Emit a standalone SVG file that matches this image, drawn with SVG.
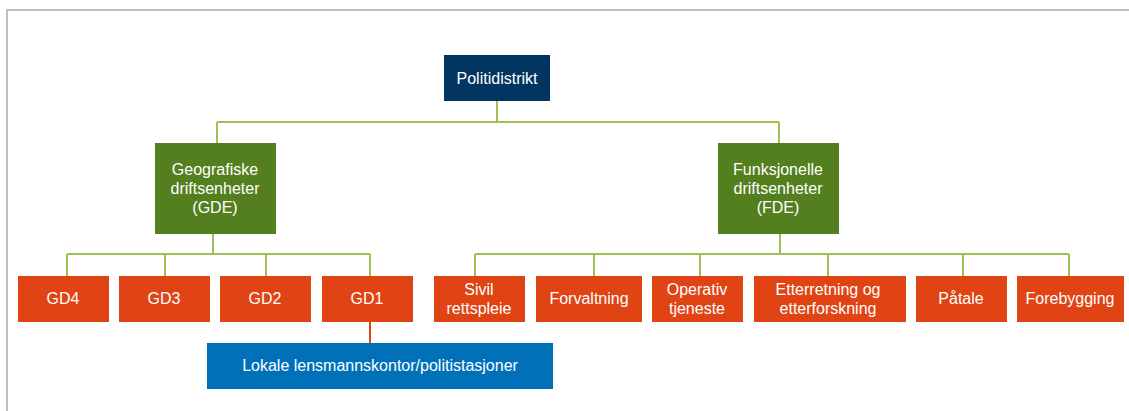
<svg xmlns="http://www.w3.org/2000/svg" width="1129" height="411" viewBox="0 0 1129 411">
<style>
text{font-family:"Liberation Sans",Arial,sans-serif;font-size:16px;fill:#fff;text-anchor:middle}
.navy{fill:#023660}
.green{fill:#537f1f}
.red{fill:#e04415}
.blue{fill:#0071b9}
.conn{stroke:#9dc153;stroke-width:2;fill:none}
.rconn{stroke:#e04415;stroke-width:2;fill:none}
</style>
<rect width="1129" height="411" fill="#fff"/>
<path d="M7 411V10H1129" stroke="#aaaaaa" stroke-width="1.5" fill="none"/>
<g id="connectors">
<path class="conn" d="M497 101V122M217 122H779M217 122V143M779 122V143"/>
<path class="conn" d="M213 234V254M67 254H370M67 254V276M165 254V276M266 254V276M370 254V276"/>
<path class="conn" d="M780 234V254M475 254H1069M475 254V276M594 254V276M700 254V276M828 254V276M963 254V276M1069 254V276"/>
<path class="rconn" d="M370 322V343"/>
</g>
<g id="politidistrikt"><rect class="navy" x="444" y="55" width="106" height="46"/><text x="497" y="84">Politidistrikt</text></g>
<g id="gde"><rect class="green" x="155" y="143" width="121" height="91"/><text x="215" y="175">Geografiske</text><text x="215" y="194">driftsenheter</text><text x="215" y="213">(GDE)</text></g>
<g id="fde"><rect class="green" x="718" y="143" width="121" height="91"/><text x="778" y="175">Funksjonelle</text><text x="778" y="194">driftsenheter</text><text x="778" y="213">(FDE)</text></g>
<g id="gd4"><rect class="red" x="18" y="276" width="91" height="46"/><text x="63" y="304">GD4</text></g>
<g id="gd3"><rect class="red" x="119" y="276" width="91" height="46"/><text x="164" y="304">GD3</text></g>
<g id="gd2"><rect class="red" x="220" y="276" width="91" height="46"/><text x="265" y="304">GD2</text></g>
<g id="gd1"><rect class="red" x="322" y="276" width="91" height="46"/><text x="367" y="304">GD1</text></g>
<g id="sivil"><rect class="red" x="434" y="276" width="91" height="46"/><text x="479" y="295">Sivil</text><text x="479" y="314">rettspleie</text></g>
<g id="forvaltning"><rect class="red" x="536" y="276" width="106" height="46"/><text x="589" y="304">Forvaltning</text></g>
<g id="operativ"><rect class="red" x="652" y="276" width="91" height="46"/><text x="697" y="295">Operativ</text><text x="697" y="314">tjeneste</text></g>
<g id="etterretning"><rect class="red" x="754" y="276" width="152" height="46"/><text x="828" y="295">Etterretning og</text><text x="828" y="314">etterforskning</text></g>
<g id="patale"><rect class="red" x="916" y="276" width="91" height="46"/><text x="961" y="304">Påtale</text></g>
<g id="forebygging"><rect class="red" x="1017" y="276" width="107" height="46"/><text x="1070" y="304">Forebygging</text></g>
<g id="lokale"><rect class="blue" x="207" y="343" width="346" height="46"/><text x="380" y="371">Lokale lensmannskontor/politistasjoner</text></g>
</svg>
